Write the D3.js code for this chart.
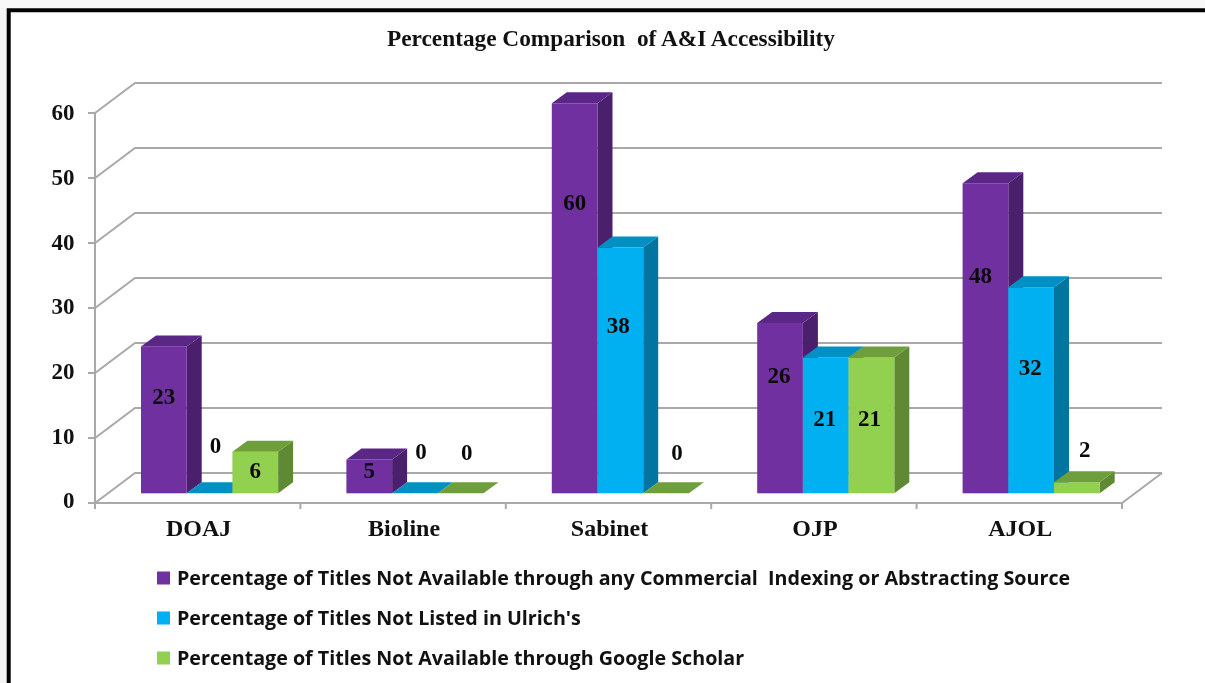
<!DOCTYPE html>
<html><head><meta charset="utf-8">
<script src="https://cdn.jsdelivr.net/npm/d3@7/dist/d3.min.js"></script>
<style>html,body{margin:0;padding:0;background:#fff}svg{display:block;filter:blur(0.45px)}text{white-space:pre}</style>
</head><body><svg id="c" width="1205" height="683"></svg>
<script>
const titleText = "Percentage Comparison  of A&I Accessibility";
const categories = ["DOAJ","Bioline","Sabinet","OJP","AJOL"];
const seriesNames = [
  "Percentage of Titles Not Available through any Commercial  Indexing or Abstracting Source",
  "Percentage of Titles Not Listed in Ulrich's",
  "Percentage of Titles Not Available through Google Scholar"];
const notIndexed = [22.6,5.2,60,26.2,47.7];
const notUlrich  = [0,0,37.8,20.9,31.7];
const notScholar = [6.4,0,0,20.9,1.7];
const yTicks = [0,10,20,30,40,50,60];
const faceColors = ["#7030a0","#00b0f0","#92d050"];
const topColors  = ["#5b2787","#0090c4","#6f9e3c"];
const sideColors = ["#4a1f6b","#00759f","#5f8a33"];
// where each data label sits, in axis units above the bar base, and its sideways nudge in px
const labelLevels = [[15,7.4,3.6],[3.6,6.5,6.4],[44.8,25.9,6.4],[18.2,11.6,11.6],[33.6,19.4,6.8]];
const labelNudges = [[0,6,0],[0,6,6],[0,-2,11],[-1,-1,-2],[-5,-1,8]];

const series = [notIndexed, notUlrich, notScholar];
const svg = d3.select("#c");
const serif = "'Liberation Serif','Times New Roman',serif";
const wallDX = 40, wallDY = -30, barDX = 15, barDY = -11, barW = 45.7;

// frame
svg.append("rect").attr("width",7).attr("height",683).attr("fill","#f4f4f4");
svg.append("rect").attr("width",1205).attr("height",8).attr("fill","#f8f8f8");
svg.append("path").attr("d","M8.7,683V10.3H1205").attr("fill","none").attr("stroke","#000").attr("stroke-width",4);

const y = d3.scaleLinear().domain([0,60]).range([503,113]);
const yLabel = d3.scaleLinear().domain([0,60]).range([500.5,112.5]);
const x = d3.scaleBand().domain(categories).range([95,1122]);
const barBase = y(0)-9.7;
const yBar = v => barBase - (y(0)-y(v));

svg.append("text").attr("x",611).attr("y",46).attr("text-anchor","middle")
  .attr("font-family",serif).attr("font-weight","bold").attr("font-size",23.3).attr("fill","#111").text(titleText);

// walls and gridlines
const grid = svg.append("g").attr("fill","none").attr("stroke","#a9a9a9").attr("stroke-width",2);
yTicks.forEach(t=>{
  const p = d3.path();
  p.moveTo(88,y(t)); p.lineTo(x.range()[0],y(t));
  p.lineTo(x.range()[0]+wallDX,y(t)+wallDY); p.lineTo(x.range()[1]+wallDX,y(t)+wallDY);
  grid.append("path").attr("d",p.toString());
});
grid.append("line").attr("x1",95).attr("x2",95).attr("y1",y(60)).attr("y2",y(0)+6);
grid.append("path").attr("d",`M${x.range()[0]},${y(0)}H${x.range()[1]}l${wallDX},${wallDY}`);
[...categories.map(c=>x(c)).slice(1),x.range()[1]].forEach(px=>
  grid.append("line").attr("x1",px).attr("x2",px).attr("y1",y(0)).attr("y2",y(0)+6));

// tick labels
svg.append("g").selectAll("text").data(yTicks).join("text")
  .attr("x",74.5).attr("y",d=>yLabel(d)).attr("dy","0.34em").attr("text-anchor","end")
  .attr("font-family",serif).attr("font-weight","bold").attr("font-size",23).attr("fill","#111").text(d=>d);
svg.append("g").selectAll("text").data(categories).join("text")
  .attr("x",d=>x(d)+x.bandwidth()/2+1).attr("y",536).attr("text-anchor","middle")
  .attr("font-family",serif).attr("font-weight","bold").attr("font-size",24).attr("fill","#111").text(d=>d);

// bars
const barOffset = 46;
categories.forEach((c,ci)=>{
  const g = svg.append("g");
  series.forEach((s,si)=>{
    const v = s[ci], x0 = x(c)+barOffset+si*barW, x1 = x0+barW, yt = yBar(v), yb = barBase;
    if (v>0) {
      g.append("path").attr("fill",sideColors[si])
       .attr("d",`M${x1},${yb}L${x1+barDX},${yb+barDY}L${x1+barDX},${yt+barDY}L${x1},${yt}Z`);
      g.append("rect").attr("x",x0).attr("y",yt).attr("width",barW).attr("height",yb-yt).attr("fill",faceColors[si]);
    }
    g.append("path").attr("fill",topColors[si])
     .attr("d",`M${x0},${yt}L${x1},${yt}L${x1+barDX},${yt+barDY}L${x0+barDX},${yt+barDY}Z`);
  });
});
// data labels drawn above all bars
categories.forEach((c,ci)=>{
  series.forEach((s,si)=>{
    svg.append("text").attr("x",x(c)+barOffset+si*barW+barW/2+labelNudges[ci][si])
      .attr("y",yBar(labelLevels[ci][si])).attr("dy","0.34em").attr("text-anchor","middle")
      .attr("font-family",serif).attr("font-weight","bold").attr("font-size",23).attr("fill","#0a0a0a")
      .text(Math.round(s[ci]));
  });
});

// legend
const legendY = d3.scalePoint().domain(seriesNames).range([578,658]);
const lg = svg.append("g");
seriesNames.forEach((n,i)=>{
  lg.append("rect").attr("x",157).attr("y",legendY(n)-6.5).attr("width",13).attr("height",13).attr("fill",faceColors[i]);
  lg.append("text").attr("x",177).attr("y",legendY(n)+6.5)
    .attr("font-family","'Open Sans',sans-serif").attr("font-weight","bold").attr("font-size",19.7).attr("fill","#111").text(n);
});
</script></body></html>
